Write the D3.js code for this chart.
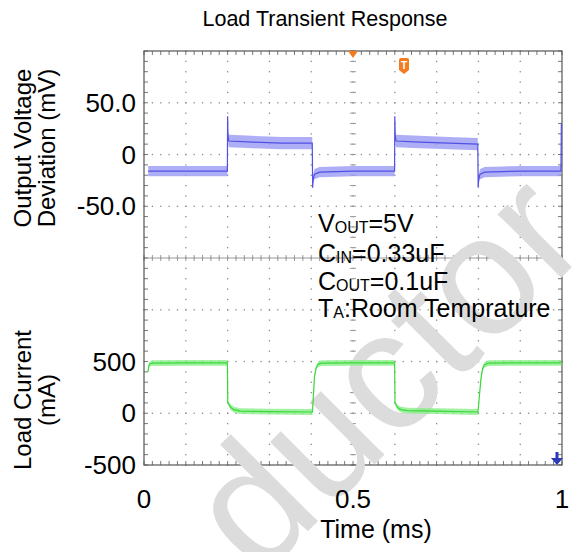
<!DOCTYPE html>
<html><head><meta charset="utf-8">
<script src="https://cdn.jsdelivr.net/npm/d3@7"></script>
<style>
body{margin:0;background:#fff}
svg{display:block}
text{font-family:"Liberation Sans",Arial,Helvetica,sans-serif;fill:#000}
</style>
</head><body>
<svg id="chart" width="573" height="552"></svg>
<script>
// ---------- data ----------
const chartTitle = "Load Transient Response";
const xAxisTitle = "Time (ms)";
const voltAxisTitle = ["Output Voltage", "Deviation (mV)"];
const currAxisTitle = ["Load Current", "(mA)"];
const timeTicks = [0, 0.5, 1];
const timeTickLabels = ["0", "0.5", "1"];
const voltTicks = [50, 0, -50];
const voltTickLabels = ["50.0", "0", "-50.0"];
const currTicks = [500, 0, -500];
const currTickLabels = ["500", "0", "-500"];

// Output voltage deviation trace (mV): time, centre value, noise half-band
const vTime  = [0.010,0.100,0.1995,0.2000,0.2010,0.2030,0.260,0.330,0.4025,0.4035,0.4045,0.4080,0.420,0.500,0.5995,0.6000,0.6010,0.6030,0.660,0.730,0.7985,0.7995,0.8005,0.8040,0.815,0.900,0.9975,0.9985,0.9990];
const vValue = [-16,-16,-16,37,18,13,12,11,11,-32,-24,-19,-17,-16,-16,37,18,13,12,11,10,-32,-24,-19,-17,-16,-16,30,26];
const vNoise = [5,5,5,1,4,6,6,6,6,1,4,5,5,5,5,1,4,6,6,6,6,1,4,5,5,5,5,1,1];

// Load current trace (mA)
const cTime  = [0.0095,0.0115,0.0140,0.020,0.100,0.1995,0.2005,0.2030,0.2080,0.2150,0.2300,0.300,0.4030,0.4050,0.4080,0.4120,0.4170,0.4250,0.500,0.5995,0.6005,0.6030,0.6080,0.6150,0.6300,0.700,0.7990,0.8020,0.8060,0.8100,0.8150,0.8250,0.900,0.9985];
const cValue = [400,455,478,485,487,487,105,85,55,35,20,15,12,150,360,440,475,485,487,487,100,80,50,35,25,20,12,150,330,430,470,485,487,487];
const cNoise = [15,20,25,28,28,28,15,22,26,28,28,28,28,10,15,22,26,28,28,28,15,22,26,28,28,28,28,10,15,22,26,28,28,28];

// markers (time positions)
const triggerTime = 0.5;
const triggerLabelTime = 0.622;
const arrowTime = 0.988;

// annotation lines
const annMain = ["V", "C", "C", "T"];
const annSub  = ["OUT", "IN", "OUT", "A"];
const annRest = ["=5V", "=0.33uF", "=0.1uF", ":Room Temprature"];
const watermark = "ductor";

// ---------- layout ----------
const X0 = 144, X1 = 562, Y0 = 51, Y1 = 465, YM = 258;
const svg = d3.select("#chart");
const x  = d3.scaleLinear().domain([0, 1]).range([X0, X1]);
const yV = d3.scaleLinear().domain([-100, 100]).range([YM, Y0]);
const yC = d3.scaleLinear().domain([-500, 1500]).range([Y1, YM]);

svg.append("rect").attr("width", 573).attr("height", 552).attr("fill", "#fff");

// grid positions
const majorX = d3.range(0, 11).map(i => x(i / 10));
const minorX = d3.range(0, 51).map(i => x(i / 50));
const majorY = [100, 50, 0, -50].map(v => yV(v)).concat([1500, 1000, 500, 0, -500].map(v => yC(v)));
const majorYu = Array.from(new Set(majorY.map(v => Math.round(v * 100) / 100))).sort((a, b) => a - b);
const minorY = d3.range(0, 21).map(i => yV(100 - i * 10)).concat(d3.range(1, 21).map(i => yC(1500 - i * 100)));

const grid = svg.append("g");
majorX.slice(1, -1).forEach(gx => {
  minorY.forEach(my => {
    grid.append("rect").attr("x", gx - 0.6).attr("y", my - 0.6).attr("width", 1.3).attr("height", 1.3).attr("fill", "#8a8a8a");
  });
});
majorYu.filter(v => v > Y0 + 1 && v < Y1 - 1).forEach(gy => {
  minorX.forEach(mx => {
    grid.append("rect").attr("x", mx - 0.6).attr("y", gy - 0.6).attr("width", 1.3).attr("height", 1.3).attr("fill", "#8a8a8a");
  });
});
grid.append("line").attr("x1", X0).attr("x2", X1).attr("y1", YM).attr("y2", YM).attr("stroke", "#9a9a9a").attr("stroke-width", 1);
minorX.forEach(mx => grid.append("line").attr("x1", mx).attr("x2", mx).attr("y1", YM - 3).attr("y2", YM + 3).attr("stroke", "#9a9a9a"));
const xc = x(0.5);
minorY.forEach(my => grid.append("line").attr("x1", xc - 3).attr("x2", xc + 3).attr("y1", my).attr("y2", my).attr("stroke", "#9a9a9a"));
minorX.forEach(mx => {
  grid.append("line").attr("x1", mx).attr("x2", mx).attr("y1", Y0).attr("y2", Y0 + 4).attr("stroke", "#777");
  grid.append("line").attr("x1", mx).attr("x2", mx).attr("y1", Y1 - 4).attr("y2", Y1).attr("stroke", "#777");
});
minorY.forEach(my => {
  grid.append("line").attr("x1", X0).attr("x2", X0 + 4).attr("y1", my).attr("y2", my).attr("stroke", "#777");
  grid.append("line").attr("x1", X1 - 4).attr("x2", X1).attr("y1", my).attr("y2", my).attr("stroke", "#777");
});
grid.append("rect").attr("x", X0).attr("y", Y0).attr("width", X1 - X0).attr("height", Y1 - Y0)
  .attr("fill", "none").attr("stroke", "#555").attr("stroke-width", 1.2);

// watermark
svg.append("text").text(watermark)
  .attr("transform", "translate(259,580) rotate(-45)")
  .style("font-size", "170px").style("fill", "#dcdcdc");

// ---------- traces ----------
function drawTrace(ts, vs, ns, yScale, band, core) {
  const pts = ts.map((t, i) => ({ t, v: vs[i], n: ns[i] }));
  const area = d3.area().x(d => x(d.t)).y0(d => yScale(d.v - d.n)).y1(d => yScale(d.v + d.n));
  const line = d3.line().x(d => x(d.t)).y(d => yScale(d.v));
  svg.append("path").datum(pts).attr("d", area).attr("fill", band).attr("opacity", 0.8);
  svg.append("path").datum(pts).attr("d", line).attr("fill", "none").attr("stroke", core).attr("stroke-width", 1.2);
}
drawTrace(vTime, vValue, vNoise, yV, "#9a9af4", "#5050e4");
drawTrace(cTime, cValue, cNoise, yC, "#8aee8a", "#3ad83a");

// ---------- markers ----------
const tx = x(triggerTime);
svg.append("path").attr("d", `M${tx - 5},${Y0} L${tx + 5},${Y0} L${tx},${Y0 + 7} Z`).attr("fill", "#f47c20");
const lx = x(triggerLabelTime);
svg.append("path").attr("d", `M${lx - 5},60 Q${lx - 5},58 ${lx - 3},58 L${lx + 3},58 Q${lx + 5},58 ${lx + 5},60 L${lx + 5},70 L${lx},74 L${lx - 5},70 Z`).attr("fill", "#f47c20");
svg.append("text").text("T").attr("x", lx).attr("y", 69).attr("text-anchor", "middle")
  .style("font-size", "10px").style("font-weight", "bold").style("fill", "#fff");
const ax = x(arrowTime);
svg.append("path").attr("d", `M${ax - 1.5},452 L${ax + 1.5},452 L${ax + 1.5},458 L${ax + 6},458 L${ax},465 L${ax - 6},458 L${ax - 1.5},458 Z`).attr("fill", "#2a3ab8");

// ---------- annotation ----------
const annY = [232, 262, 290, 317];
annMain.forEach((m, i) => {
  const t = svg.append("text").attr("x", 318).attr("y", annY[i]).style("font-size", "25px");
  t.append("tspan").text(m);
  t.append("tspan").text(annSub[i]).style("font-size", "16px").attr("dy", 1);
  t.append("tspan").text(annRest[i]).attr("dy", -1);
});

// ---------- axes labels ----------
svg.append("text").text(chartTitle).attr("x", 325).attr("y", 26).attr("text-anchor", "middle").style("font-size", "21.5px");

timeTicks.forEach((t, i) => {
  svg.append("text").text(timeTickLabels[i]).attr("x", x(t)).attr("y", 508).attr("text-anchor", "middle").style("font-size", "26px");
});
svg.append("text").text(xAxisTitle).attr("x", 376).attr("y", 538).attr("text-anchor", "middle").style("font-size", "25px");

voltTicks.forEach((v, i) => {
  svg.append("text").text(voltTickLabels[i]).attr("x", 136).attr("y", yV(v) + 9).attr("text-anchor", "end").style("font-size", "26px");
});
currTicks.forEach((v, i) => {
  svg.append("text").text(currTickLabels[i]).attr("x", 136).attr("y", yC(v) + 9).attr("text-anchor", "end").style("font-size", "26px");
});

function yTitle(lines, cy) {
  lines.forEach((s, i) => {
    svg.append("text").text(s).attr("transform", `translate(${31 + i * 24},${cy}) rotate(-90)`)
      .attr("text-anchor", "middle").style("font-size", "24px");
  });
}
yTitle(voltAxisTitle, 148);
yTitle(currAxisTitle, 400);
</script>
</body></html>
